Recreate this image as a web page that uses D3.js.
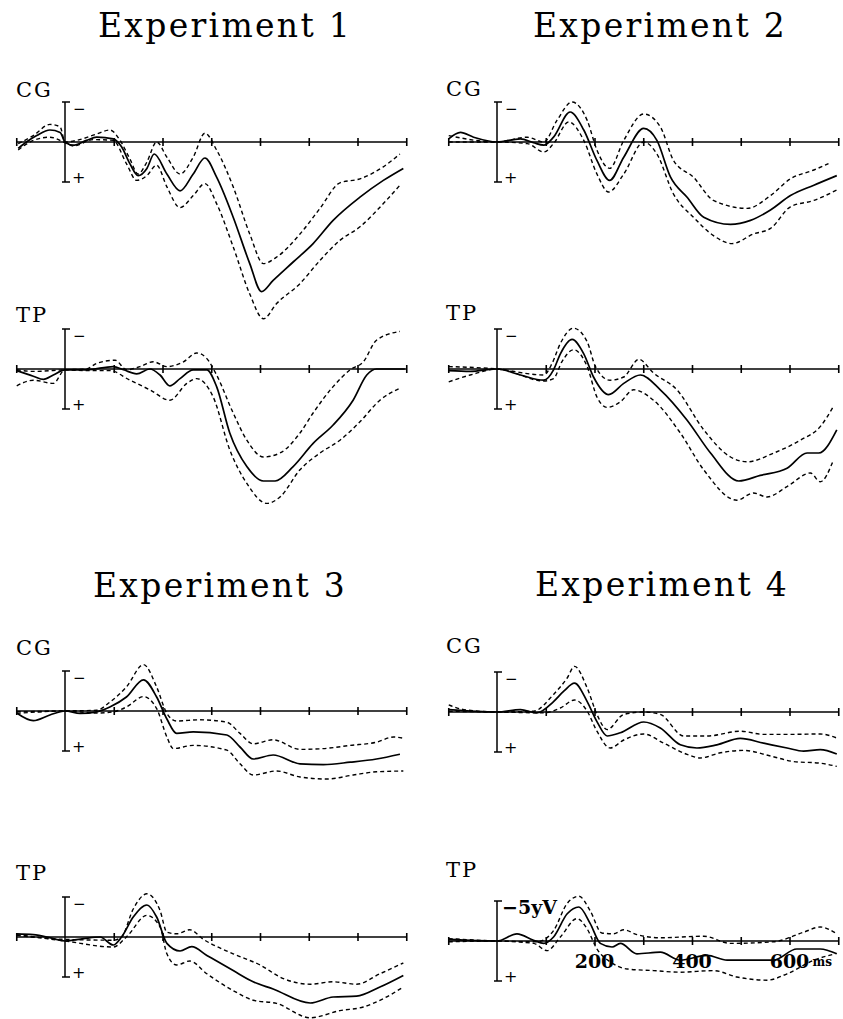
<!DOCTYPE html>
<html>
<head>
<meta charset="utf-8">
<script src="https://cdn.jsdelivr.net/npm/d3@7"></script>
<style>
  body { margin: 0; background: #fff; }
  svg { display: block; }
  .title { font-family: "DejaVu Serif", serif; font-size: 33px; letter-spacing: 2.3px; }
  .lbl { font-family: "DejaVu Serif", serif; font-size: 21px; letter-spacing: 2px; }
  .sign { font-family: "DejaVu Sans", sans-serif; fill: #000; }
  .tlab { font-family: "DejaVu Serif", serif; font-weight: bold; }
</style>
</head>
<body>
<svg width="843" height="1019"></svg>
<script>
// ERP grand averages, [ms, microvolt] pairs, positive plotted downward
const titles = ["Experiment 1", "Experiment 2", "Experiment 3", "Experiment 4"];
const sites = ["CG", "TP"];
const timeTicks = [-100, 100, 200, 300, 400, 500, 600, 700];
const timeLabels = [200, 400, 600];

// Experiment 1
const e1cgMean = [[-96,0.8],[-79,0],[-58,-0.8],[-31,-1.5],[-10,-1.2],[0,0],[17,0.4],[44,-0.2],[65,-0.6],[99,-0.4],[116,0.6],[133,2.7],[150,4.2],[168,3.3],[183,1.5],[209,4.0],[236,6.1],[263,4.0],[287,2.0],[311,4.4],[345,9.4],[379,15.2],[403,18.7],[427,17.3],[468,15.0],[509,12.7],[550,9.8],[605,6.9],[653,4.8],[694,3.3]];
const e1cgUpper = [[-96,0.2],[-65,-0.8],[-31,-2.2],[-10,-1.9],[0,0],[24,-0.2],[65,-1.0],[92,-1.5],[113,-0.2],[133,2.1],[150,4.0],[168,2.5],[188,0],[209,1.9],[236,4.0],[263,1.9],[287,-1.1],[311,1.0],[345,5.6],[379,11.5],[407,15.2],[434,14.4],[482,11.5],[523,8.3],[564,5.1],[605,4.6],[653,3.1],[687,1.5]];
const e1cgLower = [[-96,1.0],[-65,-0.2],[-31,-0.6],[-3,0],[17,0.5],[58,-0.3],[99,-0.2],[126,2.7],[147,4.8],[168,4.2],[188,2.9],[209,5.6],[236,8.2],[263,6.7],[287,5.2],[311,7.7],[345,13.1],[379,19.0],[407,22.1],[434,20.2],[482,17.7],[523,14.8],[564,12.3],[605,10.6],[653,7.7],[687,5.4]];
const e1tpMean = [[-99,0.2],[-65,0.9],[-44,1.3],[-24,0.75],[0,0.1],[44,0.1],[99,-0.3],[120,0.1],[147,0.6],[174,0],[195,0.75],[215,2.1],[236,1.2],[263,0.1],[291,0.1],[311,2.2],[338,8.0],[373,12.2],[407,14.0],[431,14.0],[468,12.2],[509,9.3],[550,7.0],[591,3.9],[619,0.75],[639,0],[697,0]];
const e1tpUpper = [[-99,0.1],[-65,0.3],[0,0.1],[44,0],[65,-0.7],[103,-1.1],[126,0.1],[154,-0.3],[181,-0.9],[209,-0.3],[243,-0.9],[270,-2.0],[291,-1.3],[311,0.75],[345,5.5],[373,8.9],[407,11.0],[441,10.5],[482,8.0],[509,5.5],[550,2.2],[585,0.1],[612,-0.9],[639,-3.6],[687,-4.7]];
const e1tpLower = [[-99,2.1],[-65,1.4],[-24,1.8],[0,0.1],[44,0.2],[92,0.2],[133,1.4],[174,2.6],[215,3.9],[250,1.8],[270,1.2],[304,3.5],[338,10.1],[373,14.3],[414,16.8],[441,16.0],[482,12.6],[523,10.5],[564,8.9],[605,6.6],[646,3.9],[687,2.4]];

// Experiment 2
const e2cgMean = [[-99,-0.4],[-75,-1.2],[-48,-0.6],[0,0],[48,-0.4],[75,0.1],[96,0.4],[116,-0.6],[150,-3.75],[178,-1.5],[205,2.3],[231,4.8],[260,1.9],[301,-1.7],[328,-0.2],[356,4.4],[390,6.9],[424,9.4],[479,10.3],[520,9.8],[561,8.5],[602,6.7],[650,5.4],[697,4.2]];
const e2cgUpper = [[-99,-0.8],[0,0],[62,-0.6],[96,0],[123,-2.7],[154,-5.0],[185,-2.7],[205,1.0],[231,3.3],[260,-0.2],[301,-3.5],[335,-1.9],[362,2.3],[403,4.4],[444,7.3],[513,8.3],[561,6.7],[602,4.6],[650,3.5],[680,2.7]];
const e2cgLower = [[-99,0],[0,0],[62,0.2],[96,1.25],[116,0.2],[147,-2.5],[178,-0.2],[205,4.0],[229,6.25],[260,4.0],[301,0],[328,1.5],[362,6.5],[403,9.4],[444,11.7],[482,12.7],[526,11.5],[561,10.8],[602,8.1],[650,7.3],[697,6.0]];
const e2tpMean = [[-99,0.2],[-55,0.3],[0,0],[48,0.75],[96,1.4],[116,0.1],[130,-1.9],[154,-3.7],[178,-1.9],[198,1.0],[229,3.2],[260,1.8],[294,0.75],[335,2.6],[390,6.4],[438,10.5],[496,14.0],[540,13.3],[595,12.4],[636,10.5],[660,10.5],[697,7.6]];
const e2tpUpper = [[-99,-0.3],[0,0],[96,0.75],[113,-0.7],[130,-3.2],[157,-5.1],[185,-3.4],[202,-0.3],[232,1.4],[260,1.0],[291,-1.2],[321,0.5],[369,2.6],[424,7.6],[479,11.0],[513,11.6],[568,10.5],[622,8.9],[663,7.2],[690,4.7]];
const e2tpLower = [[-99,1.6],[-55,0.75],[0,0],[96,1.5],[116,1.2],[133,-0.9],[157,-2.4],[185,-0.3],[205,3.5],[226,4.8],[253,4.1],[280,2.6],[321,3.9],[376,8.0],[424,12.6],[492,16.4],[526,15.5],[554,16.0],[595,14.7],[643,13.0],[663,14.1],[690,11.4]];

// Experiment 3
const e3cgMean = [[-99,0.25],[-65,1.2],[-31,0.5],[0,0],[31,0.3],[65,0.1],[92,-0.5],[126,-1.75],[161,-3.9],[188,-1.75],[209,1.0],[229,2.8],[263,2.6],[332,3.0],[359,4.5],[386,6.0],[427,5.5],[482,6.6],[530,6.7],[585,6.4],[639,6.0],[687,5.4]];
const e3cgUpper = [[-99,0.1],[0,0],[65,-0.1],[92,-1.1],[126,-3.0],[161,-5.8],[188,-3.0],[209,0.3],[229,1.25],[277,1.1],[332,1.4],[359,2.8],[386,4.1],[427,3.6],[482,4.8],[530,4.7],[585,4.3],[639,3.9],[674,3.25],[694,3.4]];
const e3cgLower = [[-99,0.3],[0,0],[65,0.25],[99,0.1],[126,-0.5],[161,-1.8],[188,-0.3],[209,3.25],[222,4.7],[263,4.3],[332,4.9],[359,6.6],[386,8.0],[434,7.5],[482,8.25],[537,8.5],[591,8.0],[639,7.6],[694,7.5]];
const e3tpMean = [[-99,-0.4],[-65,-0.3],[-24,0.2],[0,0.5],[38,0.2],[72,0],[99,1.0],[116,0],[140,-2.5],[168,-4.0],[188,-2.5],[209,0.8],[236,1.75],[260,1.2],[291,2.3],[345,4.2],[386,5.6],[427,6.5],[503,8.25],[550,7.5],[598,7.4],[646,6.25],[694,4.8]];
const e3tpUpper = [[-99,-0.2],[0,0.3],[99,0.4],[116,0],[140,-3.5],[168,-5.4],[195,-3.3],[209,-0.6],[229,-0.4],[256,-0.9],[284,0.3],[345,2.1],[400,3.5],[448,5.2],[503,5.9],[550,5.6],[598,5.9],[646,4.6],[694,3.25]];
const e3tpLower = [[-99,-0.3],[0,0.5],[99,1.25],[126,0],[168,-2.7],[195,-1.25],[209,2.1],[229,3.5],[256,3.0],[291,4.6],[345,6.7],[386,7.9],[434,8.3],[503,10.1],[564,9.2],[612,8.75],[653,7.7],[694,6.25]];

// Experiment 4
const e4cgMean = [[-99,-0.3],[0,0],[48,-0.3],[82,0.1],[116,-1.3],[137,-2.6],[159,-3.6],[185,-1.3],[205,1.2],[226,3.0],[253,2.6],[301,1.25],[335,2.0],[376,4.1],[410,4.5],[451,4.1],[499,3.3],[547,3.9],[595,4.5],[629,4.9],[663,4.7],[697,5.25]];
const e4cgUpper = [[-99,-0.9],[-68,-0.3],[0,0],[75,-0.1],[116,-2.2],[144,-4.25],[159,-5.7],[185,-3.0],[205,0.3],[226,2.2],[260,0.3],[301,0],[335,0.3],[383,3.0],[431,3.0],[499,2.4],[547,2.8],[595,2.8],[663,2.75],[697,3.25]];
const e4cgLower = [[-99,-0.1],[0,0],[96,0.1],[130,-0.5],[159,-1.5],[185,-0.1],[205,2.4],[232,4.5],[260,3.5],[301,2.75],[342,3.9],[390,5.3],[417,5.75],[458,5.1],[506,4.8],[561,5.5],[609,6.2],[663,6.4],[697,6.8]];
const e4tpMean = [[-99,-0.2],[0,0],[41,-0.9],[75,-0.1],[96,0.3],[116,-0.5],[144,-3.4],[168,-4.25],[191,-2.2],[212,0.3],[236,0.75],[253,0.3],[287,1.6],[335,1.4],[376,2.4],[431,1.8],[472,2.4],[526,2.4],[567,2.4],[615,1.0],[663,1.0],[697,1.6]];
const e4tpUpper = [[-99,-0.3],[0,0],[82,0.1],[116,-1.3],[144,-4.7],[168,-5.6],[191,-3.8],[215,-1.0],[239,-0.9],[260,-1.4],[287,-0.8],[335,-0.4],[424,-0.6],[479,0.3],[567,0.1],[629,-1.1],[663,-1.75],[697,-0.9]];
const e4tpLower = [[-99,0.1],[0,0],[75,0.3],[103,1.2],[130,-0.5],[164,-2.8],[185,-1.5],[205,1.0],[232,2.6],[267,3.5],[321,3.7],[376,3.9],[444,3.7],[492,4.5],[554,4.9],[595,4.1],[650,2.4],[694,1.6]];

// layout: left/right column zero point, baseline of each trace, label baseline
const panels = [
  { exp: 0, site: 0, x0: 65,  base: 142, labY: 97,  mean: e1cgMean, up: e1cgUpper, lo: e1cgLower },
  { exp: 0, site: 1, x0: 65,  base: 369, labY: 322, mean: e1tpMean, up: e1tpUpper, lo: e1tpLower },
  { exp: 1, site: 0, x0: 497, base: 142, labY: 96,  mean: e2cgMean, up: e2cgUpper, lo: e2cgLower },
  { exp: 1, site: 1, x0: 497, base: 369, labY: 320, mean: e2tpMean, up: e2tpUpper, lo: e2tpLower },
  { exp: 2, site: 0, x0: 65,  base: 711, labY: 655, mean: e3cgMean, up: e3cgUpper, lo: e3cgLower },
  { exp: 2, site: 1, x0: 65,  base: 937, labY: 880, mean: e3tpMean, up: e3tpUpper, lo: e3tpLower },
  { exp: 3, site: 0, x0: 497, base: 712, labY: 653, mean: e4cgMean, up: e4cgUpper, lo: e4cgLower },
  { exp: 3, site: 1, x0: 497, base: 941, labY: 877, mean: e4tpMean, up: e4tpUpper, lo: e4tpLower, scaleLabels: true }
];
const titlePos = [[225, 37], [660, 37], [220, 597], [662, 596]];

const pxPerMs = 0.4875;
const pxPerUv = 8;

let svg = d3.select("svg");

titles.forEach(function(t, i) {
  svg.append("text")
    .attr("class", "title")
    .attr("x", titlePos[i][0])
    .attr("y", titlePos[i][1])
    .attr("text-anchor", "middle")
    .text(t);
});

panels.forEach(function(p) {
  let x = d3.scaleLinear()
    .domain([-100, 700])
    .range([p.x0 - 100 * pxPerMs, p.x0 + 700 * pxPerMs]);
  let y = d3.scaleLinear()
    .domain([-5, 5])
    .range([p.base - 5 * pxPerUv, p.base + 5 * pxPerUv]);

  let g = svg.append("g");

  // site label
  g.append("text")
    .attr("class", "lbl")
    .attr("x", 16)
    .attr("y", p.labY)
    .attr("transform", p.x0 > 300 ? "translate(430,0)" : null)
    .text(sites[p.site]);

  // time axis: baseline plus small ticks crossing it
  g.append("line")
    .attr("x1", x(-100)).attr("x2", x(700))
    .attr("y1", y(0)).attr("y2", y(0))
    .attr("stroke", "#000").attr("stroke-width", 1.6);
  let ax = g.append("g")
    .attr("transform", "translate(0," + (y(0) - 4) + ")")
    .call(d3.axisBottom(x).tickValues(timeTicks).tickSize(8).tickSizeOuter(0).tickFormat(""));
  ax.select(".domain").remove();
  ax.selectAll(".tick line").attr("stroke", "#000").attr("stroke-width", 1.6);

  // voltage bar at 0 ms with end caps
  g.append("line")
    .attr("x1", x(0)).attr("x2", x(0))
    .attr("y1", y(-5)).attr("y2", y(5))
    .attr("stroke", "#000").attr("stroke-width", 1.5);
  [-5, 5].forEach(function(v) {
    g.append("line")
      .attr("x1", x(0) - 3).attr("x2", x(0) + 5)
      .attr("y1", y(v)).attr("y2", y(v))
      .attr("stroke", "#000").attr("stroke-width", 1.5);
  });
  if (p.scaleLabels) {
    g.append("text")
      .attr("class", "tlab")
      .attr("x", x(0) + 5)
      .attr("y", y(-5) + 13)
      .attr("font-size", 19)
      .text("−5yV");
  } else {
    g.append("text")
      .attr("class", "sign")
      .attr("x", x(0) + 8)
      .attr("y", y(-5) + 12)
      .attr("font-size", 15)
      .text("−");
  }
  g.append("text")
    .attr("class", "sign")
    .attr("x", x(0) + 7)
    .attr("y", y(5) + 1)
    .attr("font-size", 16)
    .text("+");

  // time labels (last panel only)
  if (p.scaleLabels) {
    timeLabels.forEach(function(t) {
      g.append("text")
        .attr("class", "tlab")
        .attr("x", x(t))
        .attr("y", y(0) + 27)
        .attr("text-anchor", "middle")
        .attr("font-size", 19)
        .text(t);
    });
    g.append("text")
      .attr("class", "tlab")
      .attr("x", x(600) + 23)
      .attr("y", y(0) + 25)
      .attr("font-size", 12)
      .text("ms");
  }

  let line = d3.line()
    .x(function(d) { return x(d[0]); })
    .y(function(d) { return y(d[1]); })
    .curve(d3.curveMonotoneX);

  [p.up, p.lo].forEach(function(s) {
    g.append("path")
      .datum(s)
      .attr("d", line)
      .attr("fill", "none")
      .attr("stroke", "#000")
      .attr("stroke-width", 1.4)
      .attr("stroke-dasharray", "4,3");
  });
  g.append("path")
    .datum(p.mean)
    .attr("d", line)
    .attr("fill", "none")
    .attr("stroke", "#000")
    .attr("stroke-width", 1.7);
});
</script>
</body>
</html>
